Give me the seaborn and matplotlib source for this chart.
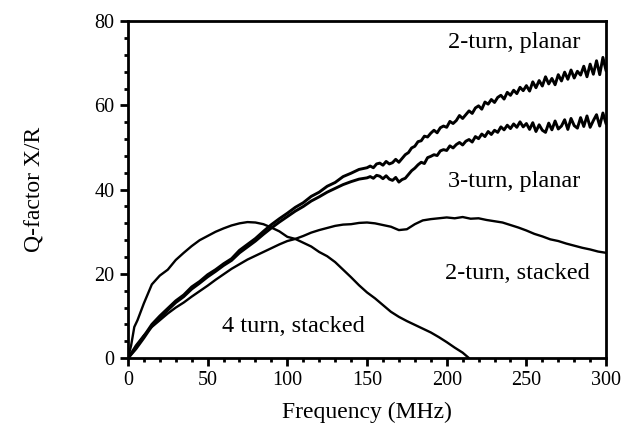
import numpy as np
import pandas as pd
import matplotlib
matplotlib.use("Agg")
import matplotlib.pyplot as plt
from matplotlib.ticker import MultipleLocator
import seaborn as sns

# --- data ---
# 2-turn, planar
f_p2 = [0, 5, 10, 15, 20, 25, 30, 35, 40, 45, 50, 55, 60, 65, 70, 75, 80, 85, 90, 95,
        100, 105, 110, 115, 120, 125, 130, 135, 140, 145, 150,
        152, 154, 156, 158, 160, 162, 164, 166, 168, 170, 172, 174, 176, 178, 180,
        182, 184, 186, 188, 190, 192, 194, 196, 198, 200,
        202, 204, 206, 208, 210, 212, 214, 216, 218, 220, 222, 224, 226, 228, 230,
        232, 234, 236, 238, 240, 242, 244, 246, 248, 250,
        252, 254, 256, 258, 260, 262, 264, 266, 268, 270, 272, 274, 276, 278, 280,
        282, 284, 286, 288, 290, 292, 294, 296, 298, 300]
q_p2 = [0, 2.5, 5.2, 8, 10, 11.8, 13.6, 15, 16.9, 18.2, 19.8, 21, 22.4, 23.6, 25.6, 27, 28.4, 30.1, 31.7, 33.1,
        34.4, 35.8, 36.9, 38.4, 39.4, 40.8, 41.7, 43.1, 43.9, 44.8, 45.2,
        45.6, 45.2, 46.1, 46.3, 45.8, 46.7, 46.1, 46.4, 47.2, 46.5, 47.4, 48.3, 48.8, 49.9, 50.3,
        51.4, 51.6, 52.7, 52.5, 53.4, 54.1, 53.5, 54.7, 55.1, 54.8,
        56.2, 55.7, 56.4, 57.6, 56.9, 57.8, 58.7, 58.1, 59.4, 59.9, 59.1, 60.8, 60.3, 61.4, 60.7,
        61.9, 62.4, 61.5, 63.1, 62.4, 63.6, 62.8, 64.3, 63.5, 64.7,
        63.4, 65.6, 64.2, 65.9, 64.6, 66.8, 65.1, 66.4, 64.9, 67.3, 65.8, 67.9, 66.2, 68.4, 66.5,
        68.1, 67.2, 69.3, 66.8, 69.8, 67.4, 70.6, 67.3, 71.4, 68.2]

# 3-turn, planar
f_p3 = f_p2
q_p3 = [0, 2.2, 4.8, 7.6, 9.6, 11.4, 13.2, 14.6, 16.4, 17.8, 19.3, 20.6, 22, 23.2, 25, 26.4, 27.8, 29.4, 30.9, 32.3,
        33.6, 34.9, 36, 37.3, 38.3, 39.4, 40.3, 41.2, 41.9, 42.5, 42.8,
        43.1, 42.7, 43.4, 43.2, 42.6, 43.3, 42.5, 42.2, 42.9, 41.8, 42.4, 42.7, 43.6, 44.5, 45.1,
        45.9, 46.5, 46.2, 47.6, 47.9, 48.3, 48.1, 49.2, 49.5, 49.3,
        50.4, 49.9, 50.7, 51.2, 50.6, 51.5, 51.9, 51.3, 52.6, 52.1, 53.2, 52.6, 53.8, 53.1, 54.1,
        53.6, 54.9, 54.2, 55.3, 54.5, 55.6, 54.8, 56.1, 54.9, 55.7,
        54.3, 55.9, 53.8, 55.4, 54.1, 53.6, 55.8, 54.2, 56.3, 54.4, 55.1, 56.6, 54.3, 56.9, 55.2,
        54.6, 57.1, 55, 57.5, 54.8, 56.4, 57.8, 55.1, 58.2, 55.6]

# 2-turn, stacked
f_s2 = [0, 5, 10, 15, 20, 25, 30, 35, 40, 45, 50, 55, 60, 65, 70, 75, 80, 85, 90, 95,
        100, 105, 110, 115, 120, 125, 130, 135, 140, 145, 150, 155, 160, 165, 170, 175, 180, 185, 190, 195,
        200, 205, 210, 215, 220, 225, 230, 235, 240, 245, 250, 255, 260, 265, 270, 275, 280, 285, 290, 295, 300]
q_s2 = [0, 3, 5.4, 7.4, 9, 10.6, 12, 13.2, 14.6, 15.9, 17.2, 18.6, 19.9, 21.2, 22.3, 23.4, 24.3, 25.2, 26.1, 27,
        27.8, 28.3, 29, 29.8, 30.4, 30.9, 31.4, 31.7, 31.8, 32.1, 32.2, 32, 31.6, 31.2, 30.4, 30.6, 31.8, 32.7, 33, 33.2,
        33.4, 33.2, 33.5, 33.1, 33.2, 32.8, 32.5, 32.2, 31.6, 31, 30.3, 29.5, 28.9, 28.2, 27.8, 27.2, 26.7, 26.2, 25.8, 25.3, 25]

# 4 turn, stacked
f_s4 = [0, 2, 4, 6, 8, 10, 15, 20, 25, 30, 35, 40, 45, 50, 55, 60, 65, 70, 75, 80, 85, 90, 95,
        100, 105, 110, 115, 120, 125, 130, 135, 140, 145, 150, 155, 160, 165, 170, 175, 180, 185, 190, 195,
        200, 205, 210, 214]
q_s4 = [0, 3, 7.4, 9, 11, 13, 17.5, 19.6, 21, 23.3, 25, 26.6, 28, 29, 30, 30.8, 31.5, 32, 32.3, 32.2, 31.8, 31, 30.1,
        28.8, 28.3, 27.4, 26.5, 25.2, 24.2, 22.8, 21, 19.2, 17.3, 15.6, 14.2, 12.6, 11, 9.8, 8.8, 7.9, 7, 6.1, 5,
        3.8, 2.5, 1.3, 0]

curves = [(f_p2, q_p2, 2.1), (f_p3, q_p3, 2.1), (f_s2, q_s2, 1.7), (f_s4, q_s4, 1.7)]

labels = ["2-turn, planar", "3-turn, planar", "2-turn, stacked", "4 turn, stacked"]
label_pos = [(284, 75, "right"), (284, 42, "right"), (290, 20, "right"), (104, 7.6, "center")]

sns.set_style("ticks")
plt.rcParams["font.family"] = ["Liberation Serif", "DejaVu Serif"]
plt.rcParams["text.color"] = "black"
plt.rcParams["axes.labelcolor"] = "black"

fig, ax = plt.subplots(figsize=(6.21, 4.32), dpi=100)
fig.subplots_adjust(left=0.206, right=0.976, top=0.951, bottom=0.171)

for f, q, lw in curves:
    sns.lineplot(x=f, y=q, ax=ax, color="black", linewidth=lw, sort=False, estimator=None)

for text, (x, y, ha) in zip(labels, label_pos):
    ax.text(x, y, text, ha=ha, va="center", fontsize=17.5, color="black")

ax.set_xlim(0, 300)
ax.set_ylim(0, 80)
ax.xaxis.set_major_locator(MultipleLocator(50))
ax.xaxis.set_minor_locator(MultipleLocator(10))
ax.yaxis.set_major_locator(MultipleLocator(20))
ax.yaxis.set_minor_locator(MultipleLocator(4))
ax.tick_params(which="major", direction="out", length=6, width=2, labelsize=14.5,
               colors="black", labelcolor="black")
ax.tick_params(which="minor", direction="out", length=3, width=2, colors="black")
for s in ax.spines.values():
    s.set_visible(True)
    s.set_linewidth(2)
    s.set_color("black")

ax.set_xlabel("Frequency (MHz)", fontsize=17, labelpad=8)
ax.set_ylabel("Q-factor X/R", fontsize=17, labelpad=35)

fig.savefig("out.png", dpi=100)
